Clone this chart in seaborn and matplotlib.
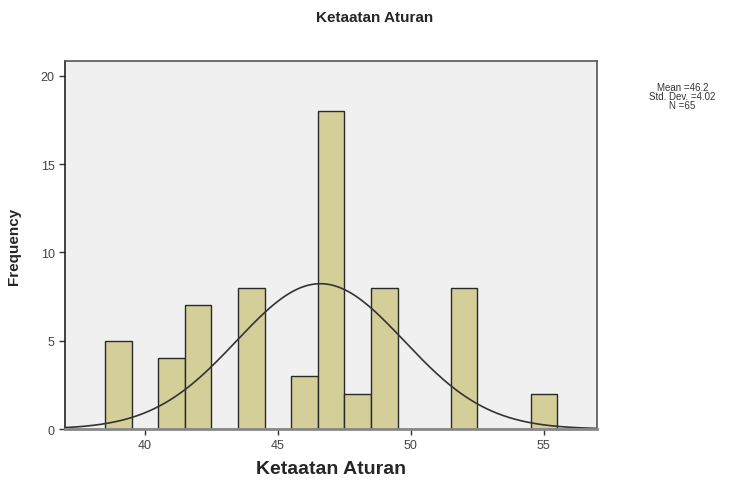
import numpy as np
import pandas as pd
import matplotlib
matplotlib.use("Agg")
import matplotlib.pyplot as plt
import seaborn as sns

# ---------------- data ----------------
scores = [39, 41, 42, 44, 46, 47, 48, 49, 52, 55]
counts = [5, 4, 7, 8, 3, 18, 2, 8, 8, 2]
stats_text = ["Mean =46.2", "Std. Dev. =4.02", "N =65"]
# normal curve as drawn in the picture
curve_mean = 46.6
curve_sd = 3.15
n_total = 65

df = pd.DataFrame({"score": scores, "count": counts})

# ---------------- style ----------------
sns.set_style("white")
plt.rcParams["font.family"] = ["Liberation Sans", "DejaVu Sans"]

fig = plt.figure(figsize=(7.5, 4.85), dpi=100)
ax = fig.add_axes([0.0867, 0.1134, 0.7093, 0.7588])
ax.set_facecolor("#f0f0f0")

sns.histplot(data=df, x="score", weights="count", discrete=True,
             color="#d4cf98", alpha=1, edgecolor="#2a2a2a", linewidth=1.0,
             ax=ax)

# fitted normal curve
xs = np.linspace(37, 57, 300)
ys = n_total / (curve_sd * np.sqrt(2 * np.pi)) * np.exp(-0.5 * ((xs - curve_mean) / curve_sd) ** 2)
sns.lineplot(x=xs, y=ys, color="#333333", linewidth=1.2, ax=ax)

ax.set_xlim(37, 57)
ax.set_ylim(0, 20.85)
ax.set_xticks([40, 45, 50, 55])
ax.set_yticks([0, 5, 10, 15, 20])
ax.tick_params(axis="both", labelsize=9, labelcolor="#444444", color="#333333",
               direction="out", length=4, width=1, bottom=True, left=True)

for side, sp in ax.spines.items():
    sp.set_visible(True)
    sp.set_color("#555555")
    sp.set_linewidth(1.2)
ax.spines["bottom"].set_color("#888888")
ax.spines["bottom"].set_linewidth(2)
ax.spines["left"].set_color("#222222")

ax.set_xlabel("Ketaatan Aturan", fontsize=14, fontweight="bold", labelpad=6)
ax.set_ylabel("Frequency", fontsize=11, fontweight="bold", labelpad=14)

fig.text(0.5, 0.963, "Ketaatan Aturan", ha="center", va="center",
         fontsize=11, fontweight="bold")

for i, line in enumerate(stats_text):
    fig.text(0.91, 1 - (88 + 9 * i) / 485, line, ha="center", va="center",
             fontsize=7, color="#333333")

fig.savefig("out.png", dpi=100)
